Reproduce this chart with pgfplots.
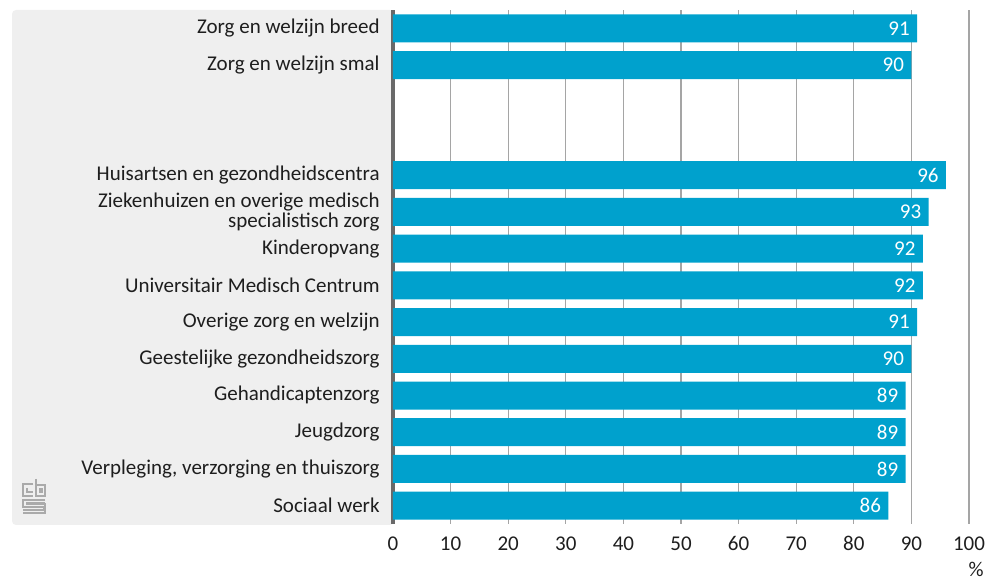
\documentclass[border=0pt]{standalone}
\usepackage{fontspec}
\setmainfont{Carlito}
\usepackage{pgfplots}
\pgfplotsset{compat=1.18}
\definecolor{barblue}{RGB}{0,161,205}
\definecolor{panelgrey}{RGB}{239,239,239}
\definecolor{gridgrey}{RGB}{165,165,165}
\definecolor{axisgrey}{RGB}{105,105,105}
\definecolor{textdark}{RGB}{30,30,30}
\definecolor{logogrey}{RGB}{170,170,170}
\begin{document}
\fontsize{10.5}{9.8}\selectfont
\begin{tikzpicture}
\useasboundingbox (0,0) rectangle (496pt,289.5pt);
\fill[panelgrey, rounded corners=2pt] (6pt,27pt) rectangle (197pt,284.5pt);
% logo
\begin{scope}[x=0.5pt,y=-0.5pt,shift={(0pt,289.5pt)},draw=logogrey,line width=0.8pt]
\draw (33,484) -- (23,484) -- (23,496) -- (33,496);
\draw (27,488) -- (27,492) -- (33,492);
\draw (36,479) -- (36,496) -- (45,496) -- (45,485) -- (36,485);
\draw (40,489) rectangle (42,492);
\draw (45,500) -- (23,500) -- (23,507) -- (44,507) -- (44,510) -- (23,510);
\draw (45,503) -- (27,503) -- (27,504) -- (45,504) -- (45,513) -- (23,513);
\end{scope}
\begin{axis}[
  at={(196.5pt,27.5pt)}, anchor=south west,
  width=288pt, height=257pt, scale only axis,
  xbar, bar width=14pt,
  xmin=0, xmax=100, ymin=-0.5, ymax=13.5, y dir=reverse,
  axis x line=bottom, axis y line=left,
  x axis line style={draw=none},
  y axis line style={-, draw=axisgrey, line width=1.6pt},
  xtick={0,10,...,100}, major tick length=0pt,
  xmajorgrids, grid style={gridgrey, line width=0.6pt},
  ytick={0,1,4,5,6,7,8,9,10,11,12,13},
  yticklabels={Zorg en welzijn breed, Zorg en welzijn smal, Huisartsen en gezondheidscentra, {Ziekenhuizen en overige medisch \\ specialistisch zorg}, Kinderopvang, Universitair Medisch Centrum, Overige zorg en welzijn, Geestelijke gezondheidszorg, Gehandicaptenzorg, Jeugdzorg, {Verpleging, verzorging en thuiszorg}, Sociaal werk},
  yticklabel style={align=right, text=textdark, xshift=-3pt},
  xticklabel style={text=textdark, yshift=-2.5pt},
  /pgf/number format/assume math mode=true,
  nodes near coords,
  nodes near coords style={anchor=east, text=white},
  axis on top=false,
]
\addplot[draw=none, fill=barblue] coordinates {
(91,0) (90,1) (96,4) (93,5) (92,6) (92,7) (91,8) (90,9) (89,10) (89,11) (89,12) (86,13)
};
\end{axis}
\node[text=textdark, anchor=base] at (488pt,1.5pt) {\%};
\end{tikzpicture}
\end{document}
